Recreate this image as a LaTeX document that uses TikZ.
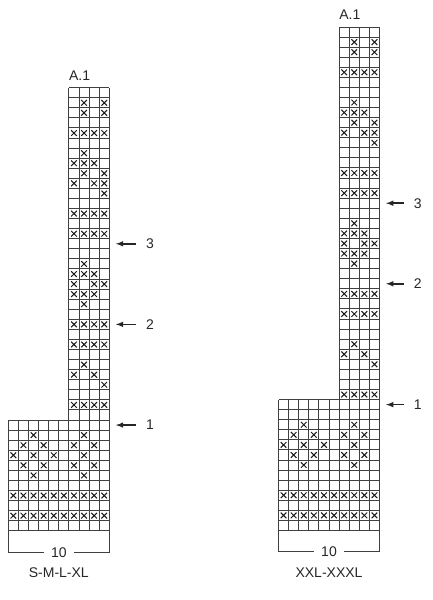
\documentclass[tikz,border=0pt]{standalone}
\usepackage{fontspec}
\setmainfont{Liberation Sans}

\tikzset{
  chartline/.style={step=1, line width=1pt, draw=black!75},
  stitch/.style={line width=1pt, draw=black!90},
  rowarrow/.style={-latex, line width=1.5pt, draw=black!85, shorten <=10pt},
  rownum/.style={inner sep=0pt, text=black!85},
  sizelabel/.style={text=black!85}
}

\begin{document}
\begin{tikzpicture}[font=\fontsize{14}{16}\selectfont]
		\useasboundingbox (0pt,0pt) rectangle (432pt,600pt);

		% S-M-L-XL
		\begin{scope}[shift={(8.3pt,69.2pt)}, x=10.1pt, y=10.07pt]
		\draw[chartline] (0,0) grid (10,11);
		\draw[chartline] (6,11) grid (10,44);
		\foreach \r/\cols in {2/{1,...,10}, 4/{1,...,10}, 6/{3,8}, 7/{2,4,7,9}, 8/{1,3,5,8}, 9/{2,4,7,9}, 10/{3,8},
				13/{7,...,10}, 15/{10}, 16/{7,9}, 17/{8}, 19/{7,...,10}, 21/{7,...,10}, 23/{8}, 24/{7,8,9}, 25/{7,9,10}, 26/{7,8,9}, 27/{8},
				30/{7,...,10}, 32/{7,...,10}, 34/{10}, 35/{7,9,10}, 36/{8,10}, 37/{7,8,9}, 38/{8}, 40/{7,...,10}, 42/{8,10}, 43/{8,10}}
			\foreach \c in \cols
				\draw[stitch] (\c-0.5,\r-0.5) +(-0.28,-0.28) -- +(0.28,0.28) +(-0.28,0.28) -- +(0.28,-0.28);
		\node[anchor=base west, inner sep=0pt, text=black!85] (chartA) at (6,44.7) {A.1};

		% row marks
		\coordinate (L1) at (10.65,10.5);
		\coordinate (L2) at (10.65,20.5);
		\coordinate (L3) at (10.65,28.5);
		\node[rownum] (Ln1) at (14.03,10.5) {1};
		\node[rownum] (Ln2) at (14.03,20.5) {2};
		\node[rownum] (Ln3) at (14.03,28.5) {3};
		\draw[rowarrow] (Ln1) -- (L1);
		\draw[rowarrow] (Ln2) -- (L2);
		\draw[rowarrow] (Ln3) -- (L3);

		% width
		\node[inner sep=7pt, text=black!85] (tenL) at (5,-2.13) {10};
		\draw[chartline] (0,0) |- (tenL.west);
		\draw[chartline] (10,0) |- (tenL.east);
		\node[sizelabel] (sizeL) at (5,-4.2) {S-M-L-XL};
		\end{scope}

		% XXL-XXXL
		\begin{scope}[shift={(278.5pt,69.5pt)}, x=10.1pt, y=10.07pt]
		\draw[chartline] (0,0) grid (10,13);
		\draw[chartline] (6,13) grid (10,50);
		\foreach \r/\cols in {2/{1,...,10}, 4/{1,...,10}, 7/{3,8}, 8/{2,4,7,9}, 9/{1,3,5,8}, 10/{2,4,7,9}, 11/{3,8},
				14/{7,...,10}, 17/{10}, 18/{7,9}, 19/{8}, 22/{7,...,10}, 24/{7,...,10}, 27/{8}, 28/{7,8,9}, 29/{7,9,10}, 30/{7,8,9}, 31/{8},
				34/{7,...,10}, 36/{7,...,10}, 39/{10}, 40/{7,9,10}, 41/{8,10}, 42/{7,8,9}, 43/{8}, 46/{7,...,10}, 48/{8,10}, 49/{8,10}}
			\foreach \c in \cols
				\draw[stitch] (\c-0.5,\r-0.5) +(-0.28,-0.28) -- +(0.28,0.28) +(-0.28,0.28) -- +(0.28,-0.28);
		\node[anchor=base west, inner sep=0pt, text=black!85] (chartB) at (6,50.7) {A.1};

		% row marks
		\coordinate (R1) at (10.65,12.5);
		\coordinate (R2) at (10.65,24.5);
		\coordinate (R3) at (10.65,32.5);
		\node[rownum] (Rn1) at (13.8,12.5) {1};
		\node[rownum] (Rn2) at (13.8,24.5) {2};
		\node[rownum] (Rn3) at (13.8,32.5) {3};
		\draw[rowarrow] (Rn1) -- (R1);
		\draw[rowarrow] (Rn2) -- (R2);
		\draw[rowarrow] (Rn3) -- (R3);

		% width
		\node[inner sep=7pt, text=black!85] (tenR) at (5,-2.13) {10};
		\draw[chartline] (0,0) |- (tenR.west);
		\draw[chartline] (10,0) |- (tenR.east);
		\node[sizelabel] (sizeR) at (5,-4.2) {XXL-XXXL};
		\end{scope}
\end{tikzpicture}
\end{document}
